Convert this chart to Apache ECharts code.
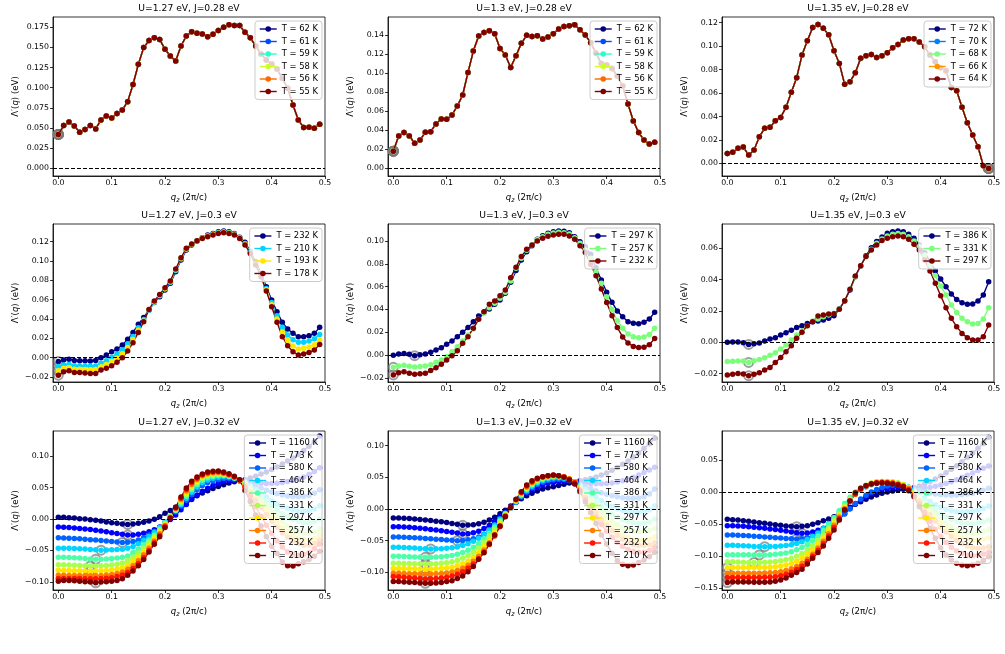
<!DOCTYPE html>
<html>
<head>
<meta charset="utf-8">
<script src="https://cdn.jsdelivr.net/npm/echarts@6/dist/echarts.min.js"></script>
<style>
  html, body { margin: 0; background: #fff; }
  #chart { width: 1005px; height: 654px; }
</style>
</head>
<body>
<div id="chart"></div>
<script>
// q_z grid (2pi/c)
const qz = [0,0.01,0.02,0.03,0.04,0.05,0.06,0.07,0.08,0.09,0.1,0.11,0.12,0.13,0.14,0.15,0.16,0.17,0.18,0.19,
  0.2,0.21,0.22,0.23,0.24,0.25,0.26,0.27,0.28,0.29,0.3,0.31,0.32,0.33,0.34,0.35,0.36,0.37,0.38,0.39,
  0.4,0.41,0.42,0.43,0.44,0.45,0.46,0.47,0.48,0.49];

// J = 0.28 eV (curves for all T lie on top of each other)
const lam_127_028 = [0.042,0.053,0.0575,0.0525,0.0447,0.048,0.053,0.0488,0.06,0.065,
  0.0625,0.068,0.0724,0.0827,0.104,0.129,0.1498,0.1585,0.162,0.16,
  0.1477,0.1394,0.1332,0.1518,0.1643,0.1696,0.1676,0.1667,0.1634,0.1663,
  0.1709,0.175,0.1783,0.1771,0.1771,0.1688,0.162,0.1518,0.142,0.1345,
  0.1295,0.1233,0.1117,0.0993,0.0786,0.06,0.0505,0.0509,0.0496,0.0546];
const lam_130_028 = [0.018,0.034,0.0375,0.034,0.0263,0.0298,0.0378,0.0385,0.0466,0.0518,
  0.0515,0.056,0.0655,0.077,0.1008,0.1232,0.139,0.1428,0.1446,0.1414,
  0.126,0.119,0.106,0.1183,0.1313,0.1397,0.1386,0.1393,0.1358,0.1379,
  0.1414,0.1463,0.1491,0.1498,0.1509,0.1456,0.14,0.132,0.121,0.11,
  0.1085,0.105,0.097,0.0865,0.0675,0.0497,0.0375,0.0298,0.0255,0.0273];
const lam_135_028 = [0.0085,0.0094,0.0128,0.0139,0.0071,0.0114,0.0227,0.0299,0.0307,0.0364,
  0.0392,0.0478,0.0606,0.0731,0.0924,0.1046,0.116,0.1186,0.1152,0.1098,
  0.0961,0.0853,0.0674,0.0697,0.0773,0.0896,0.0918,0.093,0.0904,0.0918,
  0.0944,0.0987,0.1015,0.1052,0.1063,0.1063,0.1035,0.0995,0.0924,0.0867,
  0.0816,0.079,0.0648,0.062,0.0478,0.0347,0.0242,0.0142,-0.002,-0.0043];

// J = 0.3 eV
const lam_127_030_T232 = [-0.004,-0.0024,-0.0017,-0.0028,-0.0031,-0.0031,-0.0034,-0.0028,0.0,0.0028,
  0.0062,0.009,0.0131,0.019,0.0262,0.0345,0.0417,0.0493,0.0572,0.0631,
  0.07,0.0769,0.089,0.101,0.1114,0.1166,0.1207,0.1241,0.1269,0.1286,
  0.1303,0.131,0.1303,0.1286,0.1245,0.1193,0.1097,0.0993,0.0872,0.0734,
  0.0597,0.0476,0.0366,0.0297,0.0252,0.0217,0.0217,0.0228,0.0252,0.0314];
const lam_127_030_T210 = [-0.009,-0.0075,-0.007,-0.0082,-0.0085,-0.0085,-0.0088,-0.0085,-0.0058,-0.003,
  0.0005,0.0035,0.008,0.0145,0.022,0.031,0.0395,0.049,0.0575,0.064,
  0.071,0.078,0.0903,0.1022,0.1122,0.1172,0.121,0.1238,0.1262,0.128,
  0.1296,0.1303,0.1296,0.128,0.1242,0.1182,0.1088,0.0978,0.0857,0.0715,
  0.057,0.0435,0.0315,0.0235,0.0185,0.0159,0.016,0.0172,0.0195,0.0241];
const lam_127_030_T193 = [-0.0134,-0.011,-0.0102,-0.0118,-0.012,-0.0122,-0.0125,-0.0122,-0.0093,-0.007,
  -0.0038,-0.0005,0.004,0.0105,0.0188,0.0285,0.038,0.0495,0.058,0.0648,
  0.0717,0.0787,0.091,0.1028,0.1127,0.1174,0.121,0.1236,0.1257,0.1275,
  0.129,0.1298,0.129,0.1275,0.1238,0.1174,0.1083,0.0968,0.0848,0.0702,
  0.0548,0.04,0.0265,0.0178,0.0122,0.009,0.0098,0.0112,0.0135,0.0183];
const lam_127_030_T178 = [-0.018,-0.0145,-0.0134,-0.0152,-0.0152,-0.0159,-0.0162,-0.0162,-0.0128,-0.011,
  -0.0083,-0.0048,0.0,0.0069,0.0155,0.0262,0.0372,0.05,0.0586,0.0655,
  0.0724,0.0793,0.0917,0.1034,0.1131,0.1176,0.121,0.1234,0.1252,0.1269,
  0.1286,0.1293,0.1286,0.1269,0.1234,0.1166,0.1079,0.0959,0.0838,0.069,
  0.0528,0.0366,0.0217,0.0124,0.0062,0.0028,0.0038,0.0055,0.0079,0.0138];

const lam_130_030_T297 = [-0.0003,0.0009,0.0012,0.0006,-0.0006,0.0003,0.0009,0.0023,0.0044,0.0064,
  0.0094,0.0123,0.0161,0.0199,0.024,0.0292,0.0342,0.0374,0.0404,0.0444,
  0.0482,0.0541,0.0637,0.074,0.0833,0.0906,0.0959,0.1015,0.1047,0.1067,
  0.1082,0.1088,0.1085,0.1073,0.1038,0.0994,0.095,0.0883,0.0766,0.0658,
  0.055,0.0462,0.0386,0.0336,0.0292,0.0278,0.0275,0.0287,0.0316,0.0374];
const lam_130_030_T257 = [-0.0108,-0.0096,-0.0091,-0.0099,-0.0106,-0.0102,-0.0096,-0.0085,-0.0064,-0.0044,
  -0.0015,0.0029,0.0073,0.0123,0.0175,0.0228,0.0313,0.0365,0.0415,0.0453,
  0.0497,0.055,0.0649,0.076,0.0848,0.0918,0.0965,0.1012,0.1038,0.1058,
  0.107,0.1076,0.1073,0.1061,0.1029,0.098,0.0921,0.0848,0.0731,0.0629,
  0.051,0.04,0.03,0.0235,0.0185,0.016,0.0152,0.0158,0.018,0.0234];
const lam_130_030_T232 = [-0.0175,-0.0155,-0.0146,-0.0161,-0.017,-0.0164,-0.0161,-0.0137,-0.0111,-0.0082,
  -0.0044,-0.0006,0.0038,0.0102,0.0161,0.0234,0.0313,0.038,0.0444,0.0474,
  0.052,0.057,0.0678,0.0769,0.0863,0.0927,0.0965,0.1,0.1023,0.1041,
  0.1053,0.1058,0.1058,0.1044,0.1015,0.0959,0.0898,0.0795,0.0696,0.0579,
  0.046,0.0345,0.024,0.0158,0.0105,0.0075,0.0065,0.0068,0.009,0.0145];

const lam_135_030_T386 = [0.0,0.0002,0.0002,-0.0002,-0.0013,-0.0009,-0.0004,0.0009,0.0021,0.003,
  0.0047,0.0062,0.0077,0.0094,0.0106,0.0121,0.0132,0.0136,0.0143,0.0153,
  0.017,0.0213,0.0264,0.0334,0.0419,0.0487,0.0553,0.0604,0.0643,0.0672,
  0.0696,0.0706,0.0711,0.0706,0.0689,0.0664,0.0621,0.0572,0.0515,0.0457,
  0.0404,0.0355,0.0309,0.0274,0.0253,0.0243,0.0245,0.0264,0.0302,0.0387];
const lam_135_030_T331 = [-0.0123,-0.0121,-0.0119,-0.0119,-0.0128,-0.0117,-0.0109,-0.0098,-0.0083,-0.0066,
  -0.0043,-0.0017,0.0015,0.0047,0.0072,0.0106,0.0136,0.0149,0.0164,0.0174,
  0.0185,0.0213,0.0266,0.0338,0.0419,0.0489,0.0547,0.0594,0.0632,0.066,
  0.0679,0.0689,0.0694,0.0689,0.0674,0.0647,0.0611,0.0557,0.0494,0.0426,
  0.036,0.0302,0.0238,0.0191,0.0153,0.0132,0.0117,0.0121,0.0149,0.0221];
const lam_135_030_T297 = [-0.0209,-0.0204,-0.0198,-0.0202,-0.0213,-0.0204,-0.0194,-0.0177,-0.016,-0.0128,
  -0.0096,-0.006,-0.0021,0.0026,0.0064,0.0106,0.0132,0.0168,0.0174,0.0181,
  0.0183,0.0211,0.0266,0.0338,0.0423,0.0489,0.0547,0.0589,0.0621,0.0649,
  0.0664,0.0674,0.0679,0.0674,0.0657,0.0626,0.0589,0.0526,0.0455,0.0377,
  0.0298,0.0221,0.0153,0.01,0.0057,0.003,0.0015,0.0015,0.0036,0.0111];

// J = 0.32 eV, U = 1.27 eV
const lam_127_032 = {
  1160: [0.0027,0.0027,0.0021,0.0016,0.0005,0.0,-0.0011,-0.0021,-0.0032,-0.0048,-0.0059,-0.007,-0.008,-0.0086,
    -0.008,-0.007,-0.0053,-0.0032,-0.0005,0.0037,0.0091,0.0134,0.0187,0.0241,0.0289,0.0326,0.0369,0.0412,
    0.0449,0.0487,0.0519,0.0545,0.0572,0.0594,0.061,
    0.0626,0.0652,0.0679,0.0717,0.0749,0.0786,0.0829,0.0877,0.0925,0.0973,0.1032,0.1091,0.116,0.123,0.1321],
  773: [-0.0128,-0.013,-0.0135,-0.0142,-0.015,-0.0158,-0.0168,-0.0178,-0.019,-0.0203,-0.0218,-0.0232,-0.0245,-0.0257,
    -0.0255,-0.0245,-0.0228,-0.0203,-0.017,-0.0128,-0.0072,-0.001,0.0065,0.0148,0.0232,0.031,0.038,0.044,
    0.049,0.0535,0.0572,0.0598,0.0612,0.0618,0.061,
    0.0605,0.059,0.0578,0.057,0.0566,0.0566,0.057,0.058,0.0595,0.0615,0.064,0.067,0.071,0.0755,0.0817],
  580: [-0.03,-0.0302,-0.0306,-0.031,-0.0316,-0.0322,-0.0329,-0.0336,-0.0344,-0.0352,-0.036,-0.0367,-0.0374,-0.0372,
    -0.036,-0.0335,-0.03,-0.0255,-0.02,-0.0135,-0.0055,0.003,0.0115,0.0205,0.03,0.039,0.0468,0.0532,
    0.058,0.061,0.063,0.0645,0.065,0.0638,0.061,
    0.0595,0.0565,0.053,0.0492,0.0458,0.0428,0.0402,0.038,0.0365,0.0357,0.0355,0.036,0.0375,0.0408,0.0465],
  464: [-0.0465,-0.0466,-0.0468,-0.0472,-0.0476,-0.048,-0.0486,-0.0492,-0.0497,-0.0495,-0.0492,-0.0488,-0.0482,-0.0468,
    -0.044,-0.0395,-0.034,-0.028,-0.021,-0.0135,-0.005,0.0045,0.013,0.0228,0.033,0.0425,0.051,0.0578,
    0.062,0.0648,0.0665,0.0675,0.067,0.065,0.0612,
    0.0585,0.0535,0.0475,0.041,0.0348,0.029,0.024,0.0198,0.0165,0.0142,0.0128,0.0124,0.0132,0.0158,0.021],
  386: [-0.061,-0.0611,-0.0614,-0.0618,-0.0623,-0.0629,-0.0636,-0.0642,-0.064,-0.0636,-0.063,-0.0622,-0.061,-0.059,
    -0.0535,-0.048,-0.0415,-0.034,-0.0255,-0.0165,-0.0065,0.004,0.0138,0.025,0.0362,0.0465,0.055,0.0615,
    0.0655,0.0678,0.0692,0.0695,0.068,0.0655,0.0613,
    0.0575,0.0508,0.0435,0.036,0.0285,0.0212,0.0145,0.0085,0.0035,-0.0005,-0.0035,-0.0055,-0.006,-0.0042,0.0],
  331: [-0.0727,-0.0728,-0.0731,-0.0736,-0.0741,-0.0746,-0.0749,-0.0747,-0.0744,-0.0739,-0.0732,-0.0722,-0.0702,-0.0665,
    -0.0605,-0.054,-0.0465,-0.038,-0.0285,-0.0185,-0.0075,0.0035,0.0145,0.027,0.039,0.0495,0.058,0.065,
    0.0685,0.0702,0.0712,0.0708,0.069,0.0658,0.0614,
    0.0565,0.048,0.039,0.03,0.0212,0.012,0.004,-0.004,-0.011,-0.0165,-0.0205,-0.0222,-0.0222,-0.0202,-0.016],
  297: [-0.0818,-0.0819,-0.0821,-0.0824,-0.0826,-0.0828,-0.0829,-0.0828,-0.0825,-0.082,-0.0812,-0.0798,-0.0775,-0.0735,
    -0.067,-0.06,-0.0515,-0.042,-0.0315,-0.021,-0.009,0.003,0.0155,0.029,0.0418,0.0525,0.061,0.0675,
    0.0705,0.072,0.0728,0.072,0.0695,0.066,0.0615,
    0.055,0.045,0.0345,0.024,0.0138,0.004,-0.0052,-0.0135,-0.0205,-0.026,-0.0302,-0.0328,-0.0335,-0.0315,-0.026],
  257: [-0.0898,-0.0898,-0.0899,-0.09,-0.0901,-0.0902,-0.0903,-0.0902,-0.0899,-0.0894,-0.0885,-0.087,-0.0845,-0.0802,
    -0.074,-0.0665,-0.057,-0.0465,-0.035,-0.0235,-0.0105,0.0025,0.0165,0.031,0.0445,0.055,0.063,0.069,
    0.072,0.0735,0.074,0.0728,0.07,0.0665,0.0618,
    0.0535,0.042,0.03,0.0182,0.007,-0.0035,-0.0132,-0.0218,-0.0292,-0.0352,-0.0395,-0.042,-0.0418,-0.0392,-0.034],
  232: [-0.0947,-0.0946,-0.0946,-0.0947,-0.0949,-0.0951,-0.0952,-0.0951,-0.0948,-0.0943,-0.0934,-0.0918,-0.0892,-0.0852,
    -0.079,-0.071,-0.0615,-0.05,-0.038,-0.026,-0.012,0.002,0.0175,0.033,0.047,0.0575,0.065,0.0705,
    0.0735,0.0748,0.0752,0.0738,0.071,0.067,0.062,
    0.0505,0.036,0.0195,0.0045,-0.0098,-0.0228,-0.0345,-0.0448,-0.0525,-0.0568,-0.058,-0.0565,-0.0532,-0.0475,-0.04],
  210: [-0.099,-0.098,-0.098,-0.0984,-0.099,-0.1,-0.1005,-0.1016,-0.1005,-0.1,-0.099,-0.098,-0.0952,-0.0898,
    -0.0829,-0.0743,-0.0647,-0.0524,-0.0401,-0.0283,-0.0134,0.0011,0.0187,0.0348,0.0492,0.0599,0.0668,0.0717,
    0.0749,0.0759,0.0765,0.0749,0.0722,0.0679,0.0626,
    0.0455,0.0278,0.0064,-0.0112,-0.0283,-0.0433,-0.0551,-0.0684,-0.0745,-0.0749,-0.0711,-0.068,-0.0647,-0.0594,-0.0513]
};

// J = 0.32 eV, U = 1.3 eV
const lam_130_032 = {
  1160: [-0.0142,-0.0143,-0.0147,-0.0152,-0.0158,-0.0165,-0.0173,-0.0182,-0.0192,-0.0203,-0.0215,-0.0228,-0.0242,-0.0258,
    -0.0255,-0.025,-0.0235,-0.021,-0.0175,-0.013,-0.0075,-0.002,
    0.0047,0.0105,0.016,0.021,0.025,0.0285,0.0315,0.0335,0.035,0.037,0.039,0.041,0.0432,
    0.0445,0.046,0.048,0.0505,0.0535,0.057,0.061,0.0655,0.0705,0.076,0.082,0.0885,0.0955,0.103,0.1116],
  773: [-0.0279,-0.028,-0.0284,-0.029,-0.0297,-0.0305,-0.0314,-0.0324,-0.0334,-0.0344,-0.0355,-0.0367,-0.038,-0.0395,
    -0.039,-0.0375,-0.035,-0.031,-0.026,-0.0195,-0.012,-0.0045,
    0.003,0.011,0.018,0.0245,0.03,0.0345,0.038,0.0405,0.042,0.043,0.0435,0.0435,0.0432,
    0.042,0.041,0.0402,0.0398,0.0398,0.0402,0.041,0.0425,0.0445,0.047,0.05,0.0535,0.0575,0.0615,0.0658],
  580: [-0.0442,-0.0443,-0.0446,-0.045,-0.0455,-0.046,-0.0466,-0.0472,-0.0478,-0.0484,-0.049,-0.0495,-0.05,-0.0498,
    -0.0488,-0.047,-0.0442,-0.04,-0.0345,-0.0275,-0.0192,-0.0098,
    0.0015,0.0105,0.0192,0.027,0.0335,0.0385,0.0422,0.0448,0.0462,0.0468,0.0465,0.0452,0.0432,
    0.0395,0.0358,0.0322,0.0288,0.0258,0.0232,0.021,0.0192,0.0178,0.017,0.0168,0.0175,0.0195,0.0235,0.0316],
  464: [-0.0605,-0.0606,-0.0609,-0.0613,-0.0618,-0.0624,-0.0629,-0.0632,-0.063,-0.0627,-0.0622,-0.0614,-0.06,-0.0578,
    -0.0548,-0.051,-0.0462,-0.0402,-0.0332,-0.0252,-0.016,-0.0068,
    0.001,0.011,0.0205,0.029,0.036,0.0412,0.045,0.0475,0.049,0.0492,0.0485,0.0465,0.0432,
    0.0375,0.0312,0.025,0.019,0.0135,0.0085,0.0042,0.0005,-0.0022,-0.004,-0.005,-0.005,-0.004,-0.0015,0.0047],
  386: [-0.0747,-0.0748,-0.075,-0.0753,-0.0757,-0.076,-0.0763,-0.0762,-0.0759,-0.0754,-0.0746,-0.0734,-0.0715,-0.0688,
    -0.0652,-0.0605,-0.0545,-0.047,-0.0385,-0.029,-0.0185,-0.0078,
    0.0018,0.0122,0.022,0.0308,0.038,0.0432,0.047,0.0495,0.0508,0.0508,0.0497,0.0472,0.0432,
    0.0355,0.027,0.0185,0.0108,0.0038,-0.0025,-0.008,-0.0128,-0.0168,-0.0198,-0.0218,-0.0228,-0.0225,-0.0205,-0.0158],
  331: [-0.0858,-0.0859,-0.086,-0.0862,-0.0864,-0.0866,-0.0868,-0.0867,-0.0864,-0.0858,-0.0849,-0.0835,-0.0812,-0.078,
    -0.0738,-0.0682,-0.0612,-0.0525,-0.0428,-0.032,-0.02,-0.0085,
    0.002,0.013,0.0232,0.0322,0.0395,0.0448,0.0485,0.051,0.0518,0.0516,0.0502,0.0475,0.0432,
    0.034,0.024,0.0142,0.005,-0.0035,-0.0115,-0.0185,-0.0245,-0.0292,-0.0328,-0.035,-0.036,-0.0355,-0.0338,-0.0305],
  297: [-0.094,-0.0941,-0.0942,-0.0944,-0.0946,-0.0948,-0.095,-0.0949,-0.0946,-0.0941,-0.0933,-0.092,-0.0898,-0.0865,
    -0.0822,-0.0765,-0.069,-0.0598,-0.049,-0.037,-0.0235,-0.0098,
    0.0022,0.0137,0.0243,0.0335,0.0408,0.046,0.0495,0.0517,0.0525,0.0522,0.0507,0.0478,0.0432,
    0.0325,0.021,0.0098,-0.0008,-0.011,-0.0202,-0.0282,-0.0352,-0.041,-0.0455,-0.0485,-0.0498,-0.0495,-0.0475,-0.0437],
  257: [-0.1016,-0.1017,-0.1019,-0.1022,-0.1025,-0.1028,-0.103,-0.1029,-0.1025,-0.1019,-0.101,-0.0995,-0.0972,-0.0935,
    -0.0888,-0.0825,-0.0745,-0.0648,-0.0535,-0.0408,-0.0268,-0.0108,
    0.0024,0.0143,0.0253,0.0348,0.042,0.047,0.0503,0.0522,0.053,0.0525,0.0508,0.0475,0.0428,
    0.031,0.0182,0.0058,-0.0058,-0.0165,-0.026,-0.0345,-0.0418,-0.048,-0.0528,-0.056,-0.0578,-0.0578,-0.0565,-0.0532],
  232: [-0.1068,-0.1072,-0.1078,-0.1085,-0.1092,-0.1099,-0.1105,-0.1103,-0.1098,-0.109,-0.1078,-0.106,-0.1032,-0.099,
    -0.0938,-0.087,-0.0785,-0.068,-0.056,-0.0425,-0.028,-0.0115,
    0.0025,0.0148,0.0262,0.0362,0.0432,0.0478,0.0508,0.0525,0.0533,0.0526,0.0505,0.047,0.0415,
    0.0292,0.015,0.001,-0.0125,-0.0245,-0.035,-0.0445,-0.0525,-0.059,-0.064,-0.0672,-0.0688,-0.0682,-0.0655,-0.0605],
  210: [-0.1147,-0.1147,-0.1153,-0.1158,-0.1163,-0.1168,-0.1174,-0.1172,-0.1168,-0.1163,-0.1147,-0.1132,-0.11,-0.1058,
    -0.099,-0.091,-0.0795,-0.069,-0.0553,-0.041,-0.0268,-0.0121,0.0026,0.0153,0.0274,0.0379,0.0447,0.0484,
    0.0511,0.0526,0.0537,0.0526,0.05,0.0458,0.0395,
    0.0274,0.0116,-0.0058,-0.0226,-0.041,-0.0553,-0.07,-0.0816,-0.0874,-0.0895,-0.0884,-0.0847,-0.0805,-0.0753,-0.0684]
};

// J = 0.32 eV, U = 1.35 eV
const lam_135_032 = {
  1160: [-0.0426,-0.0431,-0.0436,-0.0447,-0.0457,-0.0468,-0.0478,-0.0488,-0.0499,-0.0509,-0.0519,-0.053,-0.0535,-0.054,
    -0.0535,-0.0525,-0.0504,-0.0478,-0.0447,-0.0421,-0.0384,-0.0343,-0.0291,-0.0239,-0.0192,-0.0151,-0.0114,-0.0078,
    -0.0047,-0.0021,0.0,0.0016,0.0031,0.0042,0.0052,
    0.0068,0.0094,0.0125,0.0161,0.0203,0.0249,0.0301,0.0353,0.041,0.0473,0.054,0.0608,0.0681,0.0758,0.0852],
  773: [-0.0525,-0.0527,-0.053,-0.0535,-0.0541,-0.0548,-0.0556,-0.0565,-0.0575,-0.0585,-0.0597,-0.061,-0.0622,-0.0635,
    -0.0644,-0.0638,-0.0622,-0.0598,-0.0565,-0.0522,-0.0468,-0.0405,-0.0335,-0.026,-0.0188,-0.0125,-0.007,-0.0025,
    0.001,0.0038,0.0058,0.0072,0.008,0.0078,0.0068,
    0.0058,0.0058,0.0062,0.0072,0.0088,0.0108,0.0132,0.016,0.0192,0.0228,0.0262,0.0298,0.0335,0.037,0.0405],
  580: [-0.067,-0.0671,-0.0674,-0.0678,-0.0683,-0.0689,-0.0695,-0.0701,-0.0707,-0.0713,-0.0719,-0.0724,-0.0729,-0.0732,
    -0.0728,-0.0712,-0.0688,-0.0655,-0.0612,-0.0558,-0.0495,-0.0425,-0.0345,-0.026,-0.018,-0.011,-0.005,0.0,
    0.004,0.007,0.0092,0.0105,0.011,0.0102,0.0075,
    0.0048,0.0022,0.0,-0.0018,-0.0032,-0.0042,-0.0048,-0.005,-0.0048,-0.0042,-0.0032,-0.0018,0.0,0.0025,0.0057],
  464: [-0.0831,-0.0832,-0.0835,-0.0839,-0.0843,-0.0848,-0.0851,-0.0852,-0.0851,-0.0848,-0.0843,-0.0835,-0.0822,-0.0802,
    -0.0775,-0.074,-0.0695,-0.0638,-0.057,-0.049,-0.04,-0.0305,-0.0208,-0.0115,-0.0035,0.003,0.0078,0.0112,
    0.0132,0.0142,0.0145,0.0142,0.0132,0.0112,0.0075,
    0.0025,-0.0035,-0.0095,-0.015,-0.0198,-0.0238,-0.027,-0.0292,-0.0305,-0.031,-0.0308,-0.03,-0.0285,-0.0258,-0.0218],
  386: [-0.0977,-0.0977,-0.0978,-0.0979,-0.098,-0.0981,-0.0982,-0.0981,-0.0978,-0.0972,-0.0963,-0.095,-0.093,-0.0902,
    -0.0865,-0.0818,-0.0758,-0.0685,-0.06,-0.0505,-0.04,-0.029,-0.018,-0.008,0.0,0.0062,0.0105,0.0135,
    0.0152,0.0158,0.0158,0.0152,0.014,0.0115,0.0075,
    0.0012,-0.0065,-0.0142,-0.0215,-0.028,-0.0338,-0.0388,-0.0428,-0.0458,-0.0478,-0.0488,-0.049,-0.0482,-0.0465,-0.0436],
  331: [-0.1086,-0.1088,-0.1092,-0.1096,-0.1099,-0.1101,-0.11,-0.1097,-0.1092,-0.1084,-0.1073,-0.1058,-0.1035,-0.1002,
    -0.096,-0.0905,-0.0838,-0.0758,-0.0665,-0.0562,-0.045,-0.0335,-0.022,-0.0112,-0.002,0.0052,0.0102,0.0138,
    0.0158,0.0165,0.0165,0.0158,0.0142,0.0115,0.0072,
    -0.0002,-0.009,-0.018,-0.0268,-0.035,-0.0425,-0.049,-0.0545,-0.0588,-0.062,-0.064,-0.0645,-0.0635,-0.0612,-0.0582],
  297: [-0.118,-0.1178,-0.1177,-0.1177,-0.1177,-0.1177,-0.1177,-0.1176,-0.1173,-0.1167,-0.1156,-0.1139,-0.1113,-0.1077,
    -0.1032,-0.0972,-0.0898,-0.081,-0.0712,-0.0602,-0.0482,-0.036,-0.024,-0.0128,-0.003,0.0048,0.0102,0.0138,
    0.0158,0.0164,0.0162,0.0155,0.0138,0.011,0.0068,
    -0.0015,-0.0115,-0.0215,-0.0312,-0.0402,-0.0485,-0.0558,-0.062,-0.067,-0.0708,-0.0735,-0.075,-0.0752,-0.0738,-0.0712],
  257: [-0.1268,-0.1266,-0.1265,-0.1265,-0.1265,-0.1265,-0.1265,-0.1264,-0.1261,-0.1255,-0.1243,-0.1225,-0.1198,-0.116,
    -0.1112,-0.105,-0.097,-0.0875,-0.0768,-0.065,-0.052,-0.0388,-0.026,-0.0138,-0.0035,0.0045,0.0098,0.0132,
    0.015,0.0155,0.0152,0.0143,0.0125,0.0098,0.0055,
    -0.0035,-0.0142,-0.025,-0.0355,-0.0455,-0.0545,-0.0625,-0.0695,-0.0755,-0.0805,-0.0842,-0.0868,-0.0878,-0.0872,-0.0852],
  232: [-0.1335,-0.1333,-0.1332,-0.1332,-0.1332,-0.1332,-0.1332,-0.1331,-0.1328,-0.132,-0.1305,-0.1283,-0.125,-0.1208,
    -0.1158,-0.1085,-0.1002,-0.0908,-0.0802,-0.0685,-0.0555,-0.0412,-0.0272,-0.0142,-0.003,0.0048,0.0098,0.013,
    0.0145,0.0149,0.0146,0.0136,0.0118,0.009,0.004,
    -0.0055,-0.0188,-0.0325,-0.0458,-0.0582,-0.0692,-0.0785,-0.086,-0.0918,-0.096,-0.0985,-0.0995,-0.0988,-0.0968,-0.094],
  210: [-0.1413,-0.1403,-0.1403,-0.1403,-0.1403,-0.1408,-0.1408,-0.1408,-0.1403,-0.1392,-0.1371,-0.134,-0.1299,-0.1257,
    -0.1205,-0.1122,-0.1034,-0.0945,-0.0842,-0.0722,-0.0592,-0.0436,-0.0281,-0.014,-0.001,0.0057,0.0099,0.0125,
    0.0135,0.014,0.0135,0.0125,0.0109,0.0083,0.0021,
    -0.0073,-0.0229,-0.0395,-0.0566,-0.0722,-0.0868,-0.0982,-0.106,-0.1112,-0.1138,-0.1148,-0.1138,-0.1112,-0.107,-0.1008]
};

// temperatures (K) in each panel, legend order
const temps_a = ['62', '61', '59', '58', '56', '55'];
const temps_b = ['72', '70', '68', '66', '64'];
const temps_c = ['232', '210', '193', '178'];
const temps_d = ['297', '257', '232'];
const temps_e = ['386', '331', '297'];
const temps_f = ['1160', '773', '580', '464', '386', '331', '297', '257', '232', '210'];

const titles = [
  'U=1.27 eV, J=0.28 eV', 'U=1.3 eV, J=0.28 eV', 'U=1.35 eV, J=0.28 eV',
  'U=1.27 eV, J=0.3 eV', 'U=1.3 eV, J=0.3 eV', 'U=1.35 eV, J=0.3 eV',
  'U=1.27 eV, J=0.32 eV', 'U=1.3 eV, J=0.32 eV', 'U=1.35 eV, J=0.32 eV'
];

const xTicks = [0, 0.1, 0.2, 0.3, 0.4, 0.5];
const yTicks = [
  [0, 0.025, 0.05, 0.075, 0.1, 0.125, 0.15, 0.175],
  [0, 0.02, 0.04, 0.06, 0.08, 0.1, 0.12, 0.14],
  [0, 0.02, 0.04, 0.06, 0.08, 0.1, 0.12],
  [-0.02, 0, 0.02, 0.04, 0.06, 0.08, 0.1, 0.12],
  [-0.02, 0, 0.02, 0.04, 0.06, 0.08, 0.1],
  [-0.02, 0, 0.02, 0.04, 0.06],
  [-0.1, -0.05, 0, 0.05, 0.1],
  [-0.1, -0.05, 0, 0.05, 0.1],
  [-0.15, -0.1, -0.05, 0, 0.05]
];

const panels = [
  { temps: temps_a, curves: temps_a.map(() => lam_127_028), yr: [-0.0096, 0.1878], dec: 3 },
  { temps: temps_a, curves: temps_a.map(() => lam_130_028), yr: [-0.0081, 0.159], dec: 2 },
  { temps: temps_b, curves: temps_b.map(() => lam_135_028), yr: [-0.0108, 0.1249], dec: 2 },
  { temps: temps_c, curves: [lam_127_030_T232, lam_127_030_T210, lam_127_030_T193, lam_127_030_T178], yr: [-0.0251, 0.1383], dec: 2 },
  { temps: temps_d, curves: [lam_130_030_T297, lam_130_030_T257, lam_130_030_T232], yr: [-0.0237, 0.1149], dec: 2 },
  { temps: temps_e, curves: [lam_135_030_T386, lam_135_030_T331, lam_135_030_T297], yr: [-0.0253, 0.0755], dec: 2 },
  { temps: temps_f, curves: temps_f.map(t => lam_127_032[t]), yr: [-0.1131, 0.1401], dec: 2 },
  { temps: temps_f, curves: temps_f.map(t => lam_130_032[t]), yr: [-0.128, 0.1232], dec: 2 },
  { temps: temps_f, curves: temps_f.map(t => lam_135_032[t]), yr: [-0.1528, 0.0951], dec: 2 }
];

// layout (px)
const colLeft = [53, 388, 722];
const plotW = 272;
const rowTop = [17, 224, 431];
const plotH = [159, 158, 159];
const FONT = 'DejaVu Sans';

// matplotlib "jet"
function jet(x) {
  const r = x < 0.35 ? 0 : x < 0.66 ? (x - 0.35) / 0.31 : x < 0.89 ? 1 : 1 - 0.5 * (x - 0.89) / 0.11;
  const g = x < 0.125 ? 0 : x < 0.375 ? (x - 0.125) / 0.25 : x < 0.64 ? 1 : x < 0.91 ? 1 - (x - 0.64) / 0.27 : 0;
  const b = x < 0.11 ? 0.5 + 0.5 * x / 0.11 : x < 0.34 ? 1 : x < 0.65 ? 1 - (x - 0.34) / 0.31 : 0;
  return 'rgb(' + [r, g, b].map(v => Math.round(v * 255)).join(',') + ')';
}

const fmt = (v, dec) => (v < -1e-9 ? '\u2212' : '') + Math.abs(v).toFixed(dec);

const grid = [], xAxis = [], yAxis = [], series = [], legend = [], title = [];

panels.forEach((p, k) => {
  const r = Math.floor(k / 3), c = k % 3;
  const left = colLeft[c], top = rowTop[r], h = plotH[r];
  grid.push({ left: left, top: top, width: plotW, height: h, show: true,
    borderColor: '#000', borderWidth: 0.8, backgroundColor: 'transparent', containLabel: false });

  title.push({ text: titles[k], left: left + plotW / 2, top: top - 13, textAlign: 'center', padding: 0,
    textStyle: { fontSize: 9.2, fontWeight: 'normal', color: '#000', fontFamily: FONT } });

  xAxis.push({ type: 'value', gridIndex: k, min: -0.01, max: 0.5,
    axisLine: { show: true, onZero: false, lineStyle: { color: '#000', width: 0.8 } },
    axisTick: { show: true, length: 3, customValues: xTicks, lineStyle: { color: '#000', width: 0.8 } },
    axisLabel: { customValues: xTicks, formatter: v => v.toFixed(1), fontSize: 7.8, color: '#000', margin: 3, fontFamily: FONT },
    splitLine: { show: false },
    name: '{i|q}{s|z} (2\u03c0/c)', nameLocation: 'middle', nameGap: 16,
    nameTextStyle: { fontSize: 8.6, color: '#000', fontFamily: FONT,
      rich: { i: { fontStyle: 'italic', fontSize: 8.6, fontFamily: FONT },
              s: { fontStyle: 'italic', fontSize: 6.2, fontFamily: FONT, padding: [5, 0, 0, 0] } } } });

  yAxis.push({ type: 'value', gridIndex: k, min: p.yr[0], max: p.yr[1],
    axisLine: { show: true, onZero: false, lineStyle: { color: '#000', width: 0.8 } },
    axisTick: { show: true, length: 3, customValues: yTicks[k], lineStyle: { color: '#000', width: 0.8 } },
    axisLabel: { customValues: yTicks[k], formatter: v => fmt(v, p.dec), fontSize: 7.8, color: '#000', margin: 4, fontFamily: FONT },
    splitLine: { show: false },
    name: '\u039b\u2032({i|q}) (eV)', nameLocation: 'middle', nameGap: 33, nameRotate: 90,
    nameTextStyle: { fontSize: 8.6, color: '#000', fontFamily: FONT,
      rich: { i: { fontStyle: 'italic', fontSize: 8.6, fontFamily: FONT } } } });

  const n = p.temps.length;
  const colors = p.temps.map((t, i) => jet(n === 1 ? 0 : i / (n - 1)));
  const rings = [];
  p.temps.forEach((t, i) => {
    const arr = p.curves[i];
    series.push({ type: 'line', name: 'T = ' + t + ' K', xAxisIndex: k, yAxisIndex: k,
      data: qz.map((q, j) => [q, arr[j]]),
      symbol: 'circle', symbolSize: 5.5, showSymbol: true,
      lineStyle: { width: 1.4, color: colors[i] }, itemStyle: { color: colors[i] },
      emphasis: { disabled: true }, silent: true, animation: false });
    let m = 0;
    arr.forEach((v, j) => { if (v < arr[m]) m = j; });
    rings.push([qz[m], arr[m]]);
  });

  // grey rings on each curve's minimum, plus the dashed zero line
  series.push({ type: 'scatter', xAxisIndex: k, yAxisIndex: k, data: rings,
    symbol: 'circle', symbolSize: 9, silent: true, animation: false,
    itemStyle: { color: 'rgba(0,0,0,0)', borderColor: 'rgba(120,120,120,0.9)', borderWidth: 2 },
    markLine: { silent: true, symbol: 'none', animation: false, label: { show: false },
      lineStyle: { color: '#000', type: [4, 2], width: 1.2 }, data: [{ yAxis: 0 }] } });

  legend.push({ orient: 'vertical', right: 1005 - (left + plotW - 3), top: top + 4,
    data: p.temps.map((t, i) => ({ name: 'T = ' + t + ' K',
      itemStyle: { color: colors[i] }, lineStyle: { color: colors[i], width: 1.4 } })),
    itemWidth: 17, itemHeight: 7, itemGap: 2.5, selectedMode: false,
    textStyle: { fontSize: 8.4, lineHeight: 10, color: '#000', fontFamily: FONT },
    backgroundColor: 'rgba(255,255,255,0.8)', borderColor: '#cccccc', borderWidth: 1, borderRadius: 3,
    padding: [3, 4, 3, 4] });
});

const chart = echarts.init(document.getElementById('chart'));
chart.setOption({
  animation: false,
  backgroundColor: '#fff',
  textStyle: { fontFamily: FONT },
  title: title,
  grid: grid,
  xAxis: xAxis,
  yAxis: yAxis,
  legend: legend,
  series: series
});
</script>
</body>
</html>
